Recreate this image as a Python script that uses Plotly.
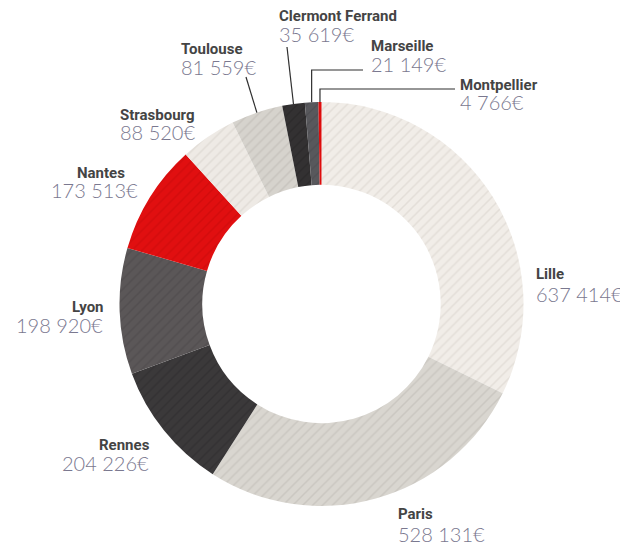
import math
import plotly.graph_objects as go

cities = ["Lille", "Paris", "Rennes", "Lyon", "Nantes", "Strasbourg",
          "Toulouse", "Clermont Ferrand", "Marseille", "Montpellier"]
amounts = [637414, 528131, 204226, 198920, 173513, 88520,
           81559, 35619, 21149, 4766]

# ---- styles ----
slice_colors = ["#f1ede8", "#d9d6d0", "#3b393a", "#5b5758", "#e10f10",
                "#eeeae5", "#d6d3cd", "#333132", "#58585c", "#e00d0d"]
stripe_colors = ["#d5cfc8", "#bcb8b1", "#2c2a2b", "#4a4647", "#c40909",
                 "#d3cdc7", "#b9b5af", "#252324", "#48484c", "#c40909"]

PAGE_OFFSET = 8                    # default body margin of the page
W, H = 628 - PAGE_OFFSET, 547 - PAGE_OFFSET
CX, CY, R = 321.5, 304.0, 202.0   # donut centre / radius in screen pixels
HOLE = 0.59

# label layout (screen pixels): name x, name y, value x, value y, side
label_layout = {
    "Lille":            (535, 274, 535, 294, "left"),
    "Paris":            (397, 514, 397, 534, "left"),
    "Rennes":           (151, 445, 150, 463, "right"),
    "Lyon":             (105, 307, 104, 325, "right"),
    "Nantes":           (126, 173, 139, 190, "right"),
    "Strasbourg":       (196, 115, 196, 132, "right"),
    "Toulouse":         (180, 49, 180, 67, "left"),
    "Clermont Ferrand": (278, 16, 278, 34, "left"),
    "Marseille":        (370, 46, 370, 64, "left"),
    "Montpellier":      (459, 85, 459, 102, "left"),
}
# leader lines: start point (screen pixels) and whether it bends (elbow)
leader_layout = {
    "Toulouse":         (246, 77, False),
    "Clermont Ferrand": (287, 47, False),
    "Marseille":        (363, 70, True),
    "Montpellier":      (455, 89, True),
}


def px(x):
    return (x - PAGE_OFFSET) / W


def py(y):
    return 1 - (y - PAGE_OFFSET) / H


fig = go.Figure(go.Pie(
    labels=cities,
    values=amounts,
    sort=False,
    direction="clockwise",
    rotation=0,
    hole=HOLE,
    textinfo="none",
    hoverinfo="label+value",
    marker=dict(
        colors=slice_colors,
        line=dict(width=0),
        pattern=dict(shape="/", fgcolor=stripe_colors, size=7, solidity=0.22,
                     fillmode="overlay"),
    ),
    showlegend=False,
    domain=dict(x=[px(CX - R), px(CX + R)], y=[py(CY + R), py(CY - R)]),
))

annotations = []
for city, val in zip(cities, amounts):
    nx, ny, vx, vy, side = label_layout[city]
    annotations.append(dict(
        x=px(nx), y=py(ny), xref="paper", yref="paper",
        text="<b>" + city + "</b>", showarrow=False,
        xanchor=side, yanchor="middle", borderpad=0,
        font=dict(family="Roboto", size=15, color="#444444"),
    ))
    annotations.append(dict(
        x=px(vx), y=py(vy), xref="paper", yref="paper",
        text=f"{val:,}".replace(",", " ") + "€", showarrow=False,
        xanchor=side, yanchor="middle", borderpad=0,
        font=dict(family="Lato", size=20, color="#7a788f", weight=300),
    ))

# leader lines: end point on the outer edge at each slice's mid angle
total = sum(amounts)
shapes = []
cum = 0
for city, val in zip(cities, amounts):
    mid = (cum + val / 2) / total
    cum += val
    if city not in leader_layout:
        continue
    ang = 2 * math.pi * mid
    ex = CX + R * math.sin(ang)
    ey = CY - R * math.cos(ang)
    sx, sy, elbow = leader_layout[city]
    if elbow:
        path = f"M {px(sx)},{py(sy)} L {px(ex)},{py(sy)} L {px(ex)},{py(ey)}"
    else:
        path = f"M {px(sx)},{py(sy)} L {px(ex)},{py(ey)}"
    shapes.append(dict(type="path", path=path, xref="paper", yref="paper",
                       line=dict(color="#2f2f2f", width=1.2)))

fig.update_layout(
    width=W, height=H,
    margin=dict(l=0, r=0, t=0, b=0),
    paper_bgcolor="white",
    plot_bgcolor="white",
    annotations=annotations,
    shapes=shapes,
)

fig.write_html("out.html")
